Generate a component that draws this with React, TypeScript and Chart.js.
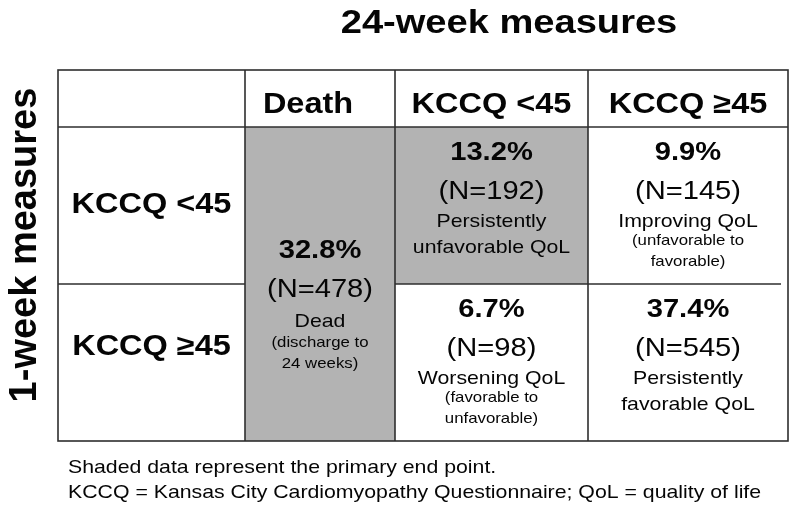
import { useEffect, useRef } from "react";
import { Chart, registerables } from "chart.js";

Chart.register(...registerables);

// ---------------- data ----------------
const chartTitle = "24-week measures";
const rowAxisTitle = "1-week measures";
const columnHeaders = ["Death", "KCCQ <45", "KCCQ ≥45"];
const rowHeaders = ["KCCQ <45", "KCCQ ≥45"];

const deathPercent = 32.8;
const deathCount = 478;
const deathLabel = ["Dead"];
const deathNote = ["(discharge to", "24 weeks)"];
const deathShaded = true;

const row1Percents = [13.2, 9.9];
const row1Counts = [192, 145];
const row1Labels = [["Persistently", "unfavorable QoL"], ["Improving QoL"]];
const row1Notes = [[], ["(unfavorable to", "favorable)"]];
const row1Shaded = [true, false];

const row2Percents = [6.7, 37.4];
const row2Counts = [98, 545];
const row2Labels = [["Worsening QoL"], ["Persistently", "favorable QoL"]];
const row2Notes = [["(favorable to", "unfavorable)"], []];
const row2Shaded = [false, false];

const footnotes = [
  "Shaded data represent the primary end point.",
  "KCCQ = Kansas City Cardiomyopathy Questionnaire; QoL = quality of life",
];

// ---------------- layout / style ----------------
const COL_W = [187, 150, 193, 200];
const ROW_H = [57, 157, 157];
const HEADER_NUDGE = [-12, 0, 0];
const STRETCH = 1.12;
const FONT = '"Liberation Sans", Arial, Helvetica, sans-serif';
const INK = "#050505";
const RULE = "#2e2e2e";
const SHADE = "#b3b3b3";

const cum = (arr: number[]) => {
  const out = [0];
  arr.forEach((v) => out.push(out[out.length - 1] + v));
  return out;
};
const COL_EDGES = cum(COL_W);
const ROW_EDGES = cum(ROW_H);

function text(
  ctx: CanvasRenderingContext2D,
  s: string,
  x: number,
  y: number,
  size: number,
  bold: boolean,
  align: CanvasTextAlign = "center",
  stretch = STRETCH
) {
  ctx.save();
  ctx.font = `${bold ? "bold " : ""}${size}px ${FONT}`;
  ctx.fillStyle = INK;
  ctx.textBaseline = "alphabetic";
  ctx.textAlign = align;
  ctx.translate(x, y);
  ctx.scale(stretch, 1);
  ctx.fillText(s, 0, 0);
  ctx.restore();
}

const PCT_SIZE = 26;
const N_SIZE = 26;
const DESC_SIZE = 19;
const NOTE_SIZE = 15;

function drawCellText(
  ctx: CanvasRenderingContext2D,
  cx: number,
  base: number,
  pct: number,
  n: number,
  labels: string[],
  notes: string[]
) {
  text(ctx, `${pct.toFixed(1)}%`, cx, base, PCT_SIZE, true);
  text(ctx, `(N=${n})`, cx, base + 39, N_SIZE, false);
  labels.forEach((l, i) => text(ctx, l, cx, base + 67 + i * 26, DESC_SIZE, false));
  const noteStart = base + 67 + (labels.length - 1) * 26 + 18;
  notes.forEach((l, i) => text(ctx, l, cx, noteStart + i * 21, NOTE_SIZE, false));
}

const tablePlugin = {
  id: "tablePlugin",
  afterDraw(chart: any) {
    const ctx: CanvasRenderingContext2D = chart.ctx;
    const xs = chart.scales.x;
    const ys = chart.scales.y;
    const X = (v: number) => xs.getPixelForValue(v);
    const Y = (v: number) => ys.getPixelForValue(v);

    ctx.save();
    // shaded cells
    ctx.fillStyle = SHADE;
    if (deathShaded) {
      ctx.fillRect(X(COL_EDGES[1]), Y(ROW_EDGES[1]), X(COL_EDGES[2]) - X(COL_EDGES[1]), Y(ROW_EDGES[3]) - Y(ROW_EDGES[1]));
    }
    const shadedRows = [row1Shaded, row2Shaded];
    shadedRows.forEach((row, r) =>
      row.forEach((sh, c) => {
        if (!sh) return;
        const x0 = X(COL_EDGES[c + 2]);
        const x1 = X(COL_EDGES[c + 3]);
        const y0 = Y(ROW_EDGES[r + 1]);
        const y1 = Y(ROW_EDGES[r + 2]);
        ctx.fillRect(x0, y0, x1 - x0, y1 - y0);
      })
    );

    // rules
    ctx.strokeStyle = RULE;
    ctx.lineWidth = 1.6;
    const line = (x0: number, y0: number, x1: number, y1: number) => {
      ctx.beginPath();
      ctx.moveTo(x0, y0);
      ctx.lineTo(x1, y1);
      ctx.stroke();
    };
    const left = X(COL_EDGES[0]);
    const right = X(COL_EDGES[4]);
    const top = Y(ROW_EDGES[0]);
    const bottom = Y(ROW_EDGES[3]);
    ctx.strokeRect(left, top, right - left, bottom - top);
    COL_EDGES.slice(1, 4).forEach((c) => line(X(c), top, X(c), bottom));
    line(left, Y(ROW_EDGES[1]), right, Y(ROW_EDGES[1]));
    // middle rule: label column and the two KCCQ columns (Death cell is merged)
    line(left, Y(ROW_EDGES[2]), X(COL_EDGES[1]), Y(ROW_EDGES[2]));
    line(X(COL_EDGES[2]), Y(ROW_EDGES[2]), X(COL_EDGES[4] - 7), Y(ROW_EDGES[2]));
    ctx.restore();

    // column headers
    columnHeaders.forEach((h, i) => {
      const cx = (X(COL_EDGES[i + 1]) + X(COL_EDGES[i + 2])) / 2 + HEADER_NUDGE[i];
      text(ctx, h, cx, Y(ROW_EDGES[0]) + 43, 29, true);
    });
    // row headers
    const rowBase = [86, 71];
    rowHeaders.forEach((h, i) => {
      const cx = (X(COL_EDGES[0]) + X(COL_EDGES[1])) / 2;
      text(ctx, h, cx, Y(ROW_EDGES[i + 1]) + rowBase[i], 29, true);
    });

    // death merged cell
    const dcx = (X(COL_EDGES[1]) + X(COL_EDGES[2])) / 2;
    text(ctx, `${deathPercent.toFixed(1)}%`, dcx, Y(ROW_EDGES[1]) + 131, PCT_SIZE, true);
    text(ctx, `(N=${deathCount})`, dcx, Y(ROW_EDGES[1]) + 170, N_SIZE, false);
    deathLabel.forEach((l, i) => text(ctx, l, dcx, Y(ROW_EDGES[1]) + 200 + i * 26, DESC_SIZE, false));
    deathNote.forEach((l, i) => text(ctx, l, dcx, Y(ROW_EDGES[1]) + 220 + i * 21, NOTE_SIZE, false));

    // other cells
    const rows = [
      { pct: row1Percents, n: row1Counts, labels: row1Labels, notes: row1Notes },
      { pct: row2Percents, n: row2Counts, labels: row2Labels, notes: row2Notes },
    ];
    rows.forEach((row, r) => {
      row.pct.forEach((p, c) => {
        const cx = (X(COL_EDGES[c + 2]) + X(COL_EDGES[c + 3])) / 2;
        drawCellText(ctx, cx, Y(ROW_EDGES[r + 1]) + 33, p, row.n[c], row.labels[c], row.notes[c]);
      });
    });

    // title
    text(ctx, chartTitle, 509, 33, 34, true);

    // vertical row-axis title
    ctx.save();
    ctx.font = `bold 38px ${FONT}`;
    ctx.fillStyle = INK;
    ctx.textAlign = "center";
    ctx.textBaseline = "alphabetic";
    ctx.translate(36, 245);
    ctx.rotate(-Math.PI / 2);
    ctx.fillText(rowAxisTitle, 0, 0);
    ctx.restore();

    // footnotes
    footnotes.forEach((f, i) => text(ctx, f, 68, 473 + i * 25, 19, false, "left"));
  },
};

export default function App() {
  const ref = useRef<HTMLCanvasElement | null>(null);
  useEffect(() => {
    if (!ref.current) return;
    const chart = new Chart(ref.current, {
      type: "scatter",
      data: { datasets: [] },
      options: {
        animation: false,
        responsive: false,
        events: [],
        layout: { padding: { left: 58, top: 70, right: 12, bottom: 68 } },
        plugins: { legend: { display: false }, tooltip: { enabled: false }, title: { display: false } },
        scales: {
          x: { type: "linear", min: 0, max: COL_EDGES[4], display: false },
          y: { type: "linear", min: 0, max: ROW_EDGES[3], reverse: true, display: false },
        },
      },
      plugins: [tablePlugin],
    } as any);
    return () => chart.destroy();
  }, []);
  return (
    <div style={{ position: "absolute", left: 0, top: 0, width: 800, height: 509, background: "#ffffff" }}>
      <canvas ref={ref} width={800} height={509} style={{ display: "block" }} />
    </div>
  );
}
